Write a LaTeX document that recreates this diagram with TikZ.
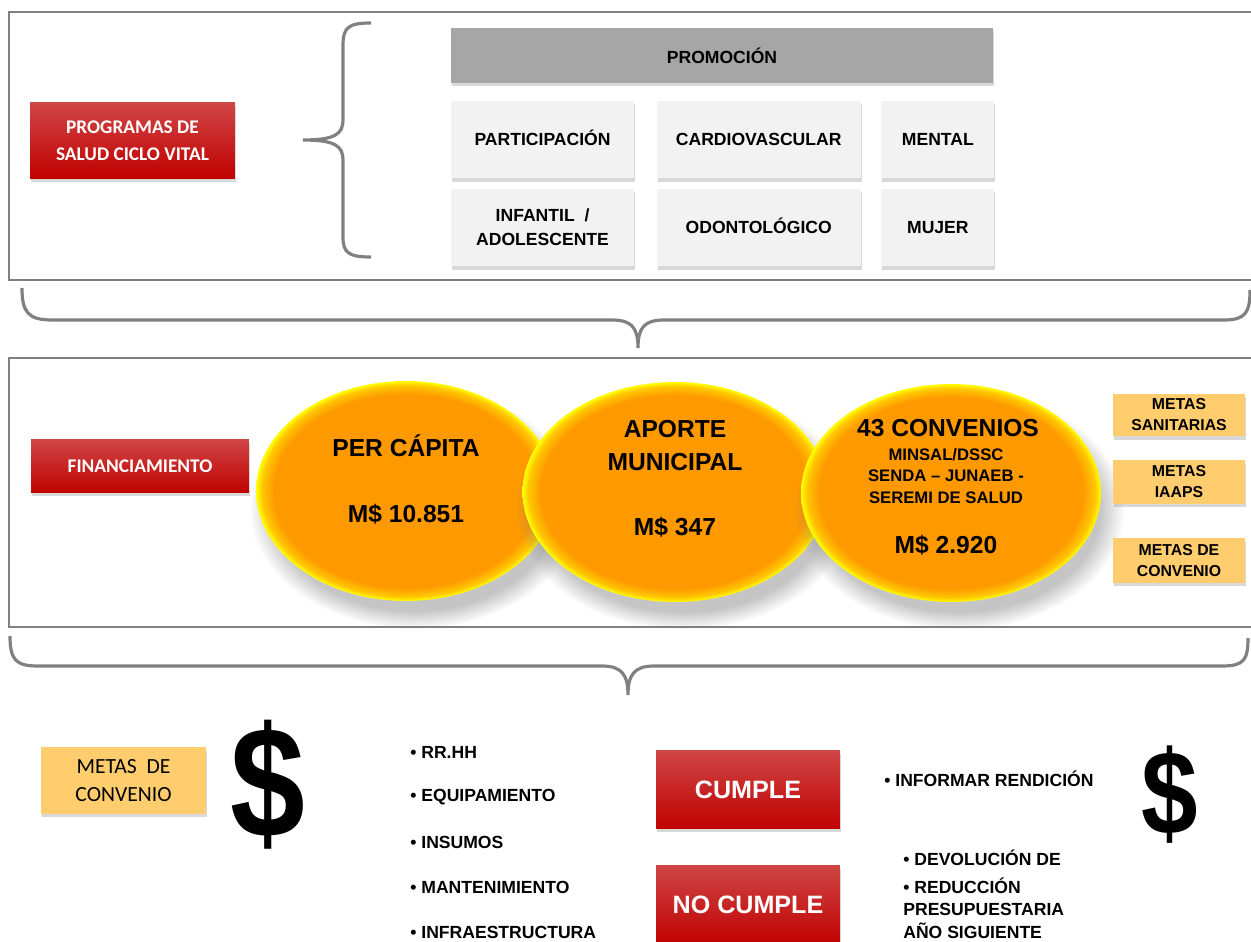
\documentclass[tikz,border=0pt]{standalone}
\usepackage{fontspec}
\setmainfont{Liberation Sans}
\newfontfamily\calfont{Carlito}
\usetikzlibrary{positioning,shapes.geometric,shadows}
\definecolor{boxred}{RGB}{192,0,0}
\definecolor{boxredtop}{RGB}{208,70,70}
\definecolor{promogrey}{RGB}{166,166,166}
\definecolor{itemgrey}{RGB}{242,242,242}
\definecolor{metagold}{RGB}{255,205,110}
\definecolor{framegrey}{RGB}{128,128,128}
\definecolor{ballorange}{RGB}{255,153,0}
\pgfdeclareradialshading{ballrim}{\pgfpoint{0bp}{0bp}}{color(0bp)=(ballorange); color(22bp)=(ballorange); color(24bp)=(ballorange!55!yellow); color(25bp)=(yellow); color(50bp)=(yellow)}
\tikzset{
	panel/.style={draw=framegrey, line width=0.9pt},
	bracestroke/.style={draw=framegrey, line width=1.8pt},
	softshadow/.style={drop shadow={shadow xshift=0.2mm, shadow yshift=-0.7mm, opacity=0.3}},
	redbox/.style={rectangle, top color=boxredtop, middle color=boxred, bottom color=boxred, text=white, align=center, softshadow},
	greybox/.style={rectangle, fill=itemgrey, align=center, minimum height=1.55cm, softshadow, font=\bfseries\fontsize{10}{13.6}\selectfont},
	greyitem/.style={greybox, text height=1.5ex, text depth=0.3ex},
	metabox/.style={rectangle, fill=metagold, align=center, minimum width=2.64cm, inner sep=1pt, softshadow, font=\bfseries\fontsize{9}{12}\selectfont},
	ball/.style={ellipse, shade, shading=ballrim, minimum width=6cm, minimum height=4.4cm, inner sep=0pt, circular drop shadow={shadow xshift=1.5mm, shadow yshift=-3mm, opacity=0.45}},
	balltxt/.style={font=\bfseries\fontsize{14}{18.7}\selectfont, align=center},
	smalltxt/.style={font=\bfseries\fontsize{9.5}{12}\selectfont, align=center},
	listtxt/.style={anchor=west, font=\bfseries\fontsize{10}{13.3}\selectfont, align=left, inner sep=0pt},
	cash/.style={inner sep=0pt}
}
\begin{document}
\begin{tikzpicture}[x=0.02cm, y=-0.02cm]
	\useasboundingbox (0,0) rectangle (1251,942);
	\clip (0,0) rectangle (1251,942);
	\fill[white] (0,0) rectangle (1251,942);
	\draw[panel] (9,12) rectangle (1270,280);
	\draw[panel] (9,358) rectangle (1270,627);

	\node[redbox, minimum width=4.1cm, minimum height=1.54cm, font=\calfont\bfseries\fontsize{11}{15.3}\selectfont] (prog) at (132.5,140.5) {PROGRAMAS DE\\SALUD CICLO VITAL};
	\draw[bracestroke] (371,23) .. controls (349,23) and (343,27) .. (343,45) -- (343,120) .. controls (343,134) and (335,140) .. (303,140) .. controls (335,140) and (343,146) .. (343,160) -- (343,237) .. controls (343,253) and (349,257) .. (371,257);
	\node[rectangle, fill=promogrey, minimum width=10.84cm, minimum height=1.1cm, softshadow, font=\bfseries\fontsize{10}{12}\selectfont] (promo) at (722,55.5) {PROMOCIÓN};
	\node[greyitem, minimum width=3.66cm, below right=0.34cm and 0cm of promo.south west] (part) {PARTICIPACIÓN};
	\node[greyitem, minimum width=4.08cm, right=0.44cm of part] (cardio) {CARDIOVASCULAR};
	\node[greyitem, minimum width=2.26cm, right=0.4cm of cardio] (mental) {MENTAL};
	\node[greybox, minimum width=3.66cm, below=0.2cm of part] (infantil) {INFANTIL~~/\\ADOLESCENTE};
	\node[greyitem, minimum width=4.08cm, below=0.2cm of cardio] (odonto) {ODONTOLÓGICO};
	\node[greyitem, minimum width=2.26cm, below=0.2cm of mental] (mujer) {MUJER};

	\draw[bracestroke] (22,288) .. controls (22,312) and (28,320) .. (52,320) -- (612,320) .. controls (632,320) and (638,328) .. (638,348) .. controls (638,328) and (644,320) .. (664,320) -- (1224,320) .. controls (1246,320) and (1250,312) .. (1250,290);

	\node[redbox, minimum width=4.36cm, minimum height=1.08cm, font=\calfont\bfseries\fontsize{11}{14}\selectfont] (fin) at (140,466) {FINANCIAMIENTO};
	\node[ball] (percap) at (406,491) {};
	\node[ball, minimum width=6.1cm] (aporte) at (675,492) {};
	\node[ball, minimum height=4.36cm] (conv) at (951,493) {};
	\node[balltxt] (pctitle) at (406,446) {PER CÁPITA};
	\node[balltxt] (pcsum) at (406,514) {M\$ 10.851};
	\node[balltxt] (aptitle) at (675,445.5) {APORTE\\MUNICIPAL};
	\node[balltxt] (apsum) at (675,527) {M\$ 347};
	\node[balltxt] (cvtitle) at (948,428) {43 CONVENIOS};
	\node[smalltxt] (cvlist) at (946,476) {MINSAL/DSSC\\SENDA – JUNAEB -\\SEREMI DE SALUD};
	\node[balltxt] (cvsum) at (946,545) {M\$ 2.920};
	\node[metabox, minimum height=0.86cm] (msan) at (1179,415) {METAS\\SANITARIAS};
	\node[metabox, minimum height=0.88cm] (miaaps) at (1179,482) {METAS\\IAAPS};
	\node[metabox, minimum height=0.9cm] (mconv) at (1179,560.5) {METAS DE\\CONVENIO};

	\draw[bracestroke] (10,636) .. controls (10,660) and (16,666) .. (38,666) -- (602,666) .. controls (622,666) and (628,675) .. (628,695) .. controls (628,675) and (634,666) .. (654,666) -- (1222,666) .. controls (1244,666) and (1248,660) .. (1248,638);

	\node[metabox, minimum width=3.3cm, minimum height=1.34cm, font=\calfont\fontsize{12.3}{16.4}\selectfont] (bmeta) at (123.5,780.5) {METAS\ \ DE\\CONVENIO};
	\node[cash, font=\bfseries\fontsize{90}{90}\selectfont] (bigcash) at (268,785) {\scalebox{0.85}[1]{\$}};
	\foreach \usage [count=\i] in {RR.HH, EQUIPAMIENTO, INSUMOS, MANTENIMIENTO, INFRAESTRUCTURA}
		\node[listtxt] (use\i) at (410,{707+45*\i}) {• \usage};
	\node[redbox, minimum width=3.68cm, minimum height=1.58cm, font=\bfseries\fontsize{14.3}{17}\selectfont] (cumple) at (748,789.5) {CUMPLE};
	\node[redbox, minimum width=3.68cm, minimum height=1.6cm, font=\bfseries\fontsize{14.3}{17}\selectfont] (nocumple) at (748,905) {NO CUMPLE};
	\node[listtxt] (rendir) at (884,779) {• INFORMAR RENDICIÓN};
	\node[listtxt] (devol) at (903,858) {• DEVOLUCIÓN DE};
	\node[listtxt, font=\bfseries\fontsize{10}{12.8}\selectfont] (reduc) at (903,908) {• REDUCCIÓN\\PRESUPUESTARIA\\AÑO SIGUIENTE};
	\node[cash, font=\bfseries\fontsize{68}{68}\selectfont] (smallcash) at (1170,795) {\scalebox{0.85}[1]{\$}};
\end{tikzpicture}
\end{document}
